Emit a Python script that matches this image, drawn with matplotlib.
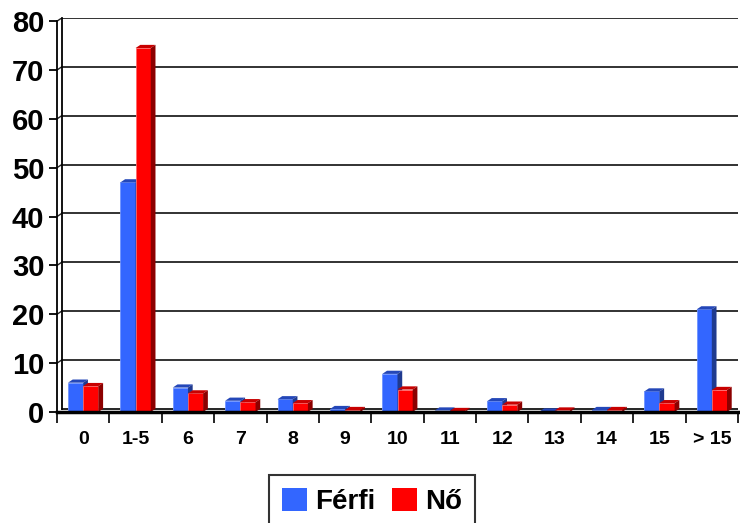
import matplotlib.pyplot as plt
from matplotlib.patches import Polygon, Patch
import numpy as np

plt.rcParams['font.family'] = ['Liberation Sans', 'DejaVu Sans']
plt.rcParams['font.weight'] = 'bold'

# adatok
categories = ['0', '1-5', '6', '7', '8', '9', '10', '11', '12', '13', '14', '15', '> 15']
ferfi = [6.0, 47.0, 5.0, 2.3, 2.6, 0.6, 7.8, 0.3, 2.2, 0.1, 0.4, 4.2, 21.0]
no = [5.3, 74.5, 3.8, 2.0, 1.8, 0.4, 4.6, 0.2, 1.5, 0.3, 0.4, 1.8, 4.5]
y_ticks = [0, 10, 20, 30, 40, 50, 60, 70, 80]

series = [
    ('Férfi', ferfi, '#3366FF', '#2447B8', '#1F3A8F', '#6F93FF'),
    ('Nő', no, '#FF0000', '#C80000', '#8C0000', '#FF6A6A'),
]

fig = plt.figure(figsize=(7.4, 5.23), dpi=100)
ax = fig.add_axes([57 / 740, 111 / 523, 681 / 740, (412 - 18) / 523])

n = len(categories)
x = np.arange(n)
bw = 0.29      # oszlop szélesség
dx = 0.09      # mélység x irányban
dy = 0.65      # mélység y irányban
ymax = 80 + dy

ax.set_xlim(-0.5, n - 0.5)
ax.set_ylim(0, ymax)

# rácsvonalak a hátsó falon
for v in y_ticks[1:]:
    ax.plot([-0.5 + dx, n - 0.5], [v + dy, v + dy], color='#222222', lw=1.3, zorder=1)
    ax.plot([-0.5, -0.5 + dx], [v, v + dy], color='#222222', lw=1.0, zorder=1)

# bal oldali fal
ax.plot([-0.5, -0.5], [0, 80], color='black', lw=1.3, zorder=2, clip_on=False)
ax.plot([-0.5 + dx, -0.5 + dx], [dy, 80 + dy], color='black', lw=1.3, zorder=2, clip_on=False)

# padló
ax.plot([-0.5, n - 0.5], [0, 0], color='black', lw=2.5, zorder=6, clip_on=False)
ax.plot([-0.5 + dx, n - 0.5], [dy, dy], color='black', lw=1.2, zorder=1)

for k, (name, vals, front, top, side, edge) in enumerate(series):
    left = x - bw + k * bw
    ax.bar(left, vals, width=bw, align='edge', color=front, edgecolor=edge,
           linewidth=0.6, zorder=3 + k)
    for xi, v in zip(left, vals):
        ax.add_patch(Polygon([(xi, v), (xi + bw, v), (xi + bw + dx, v + dy), (xi + dx, v + dy)],
                             closed=True, facecolor=top, edgecolor='none', zorder=3 + k))
        ax.add_patch(Polygon([(xi + bw, 0), (xi + bw + dx, dy), (xi + bw + dx, v + dy), (xi + bw, v)],
                             closed=True, facecolor=side, edgecolor='none', zorder=3 + k))

for s in ax.spines.values():
    s.set_visible(False)

ax.set_yticks(y_ticks)
ax.set_yticklabels([str(v) for v in y_ticks], fontsize=21, fontweight='bold')
ax.tick_params(axis='y', length=6, width=1.3, pad=3)

ax.set_xticks(np.arange(n + 1) - 0.5)
ax.set_xticklabels([''] * (n + 1))
ax.tick_params(axis='x', which='major', length=8, width=1.2, direction='out')
ax.set_xticks(x, minor=True)
ax.set_xticklabels(categories, minor=True, fontsize=14, fontweight='bold')
ax.tick_params(axis='x', which='minor', length=0, pad=14)

handles = [Patch(facecolor=s[2], edgecolor='none', label=s[0]) for s in series]
leg = fig.legend(handles=handles, loc='lower center', bbox_to_anchor=(0.503, -0.035),
                 ncol=2, frameon=True, fancybox=False, edgecolor='black',
                 prop={'size': 20, 'weight': 'bold'}, handlelength=0.9, handleheight=0.9,
                 handletextpad=0.3, columnspacing=0.6, borderpad=0.45)
leg.get_frame().set_linewidth(1.5)

fig.savefig('out.png', dpi=100)
